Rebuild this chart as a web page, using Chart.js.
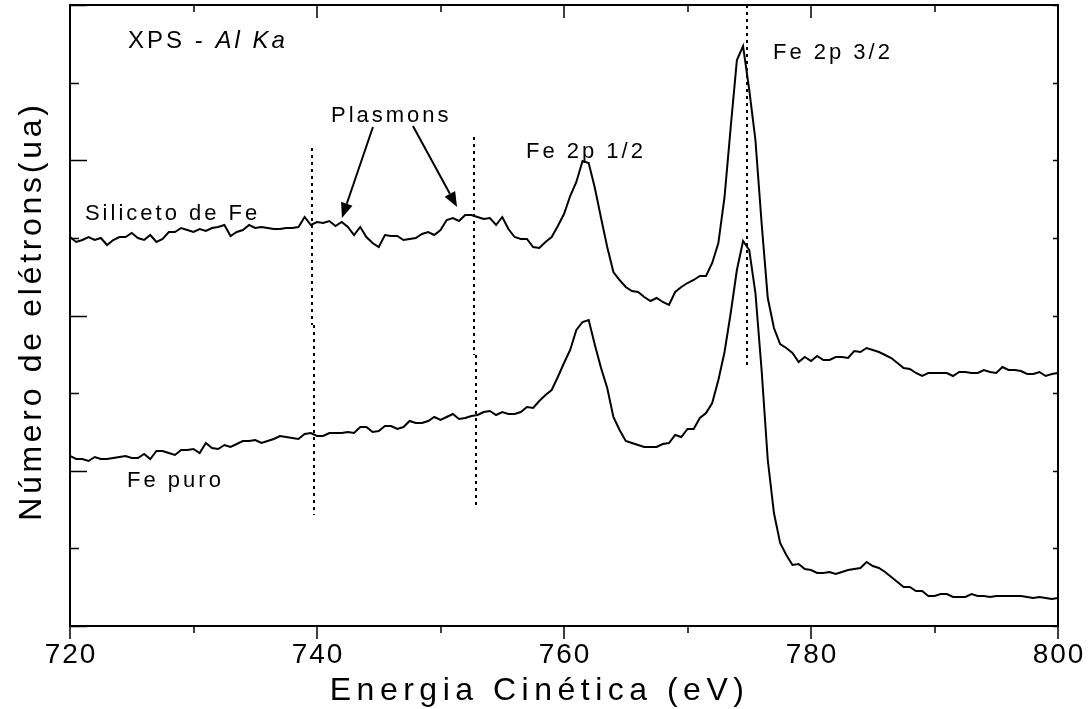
<!DOCTYPE html>
<html>
<head>
<meta charset="utf-8">
<title>XPS - Al Ka</title>
<script src="https://cdn.jsdelivr.net/npm/chart.js@4.4.1/dist/chart.umd.min.js"></script>
<style>
  html, body { margin: 0; padding: 0; background: #fff; }
  #wrap { width: 1091px; height: 709px; }
</style>
</head>
<body>
<div id="wrap"><canvas id="xpsChart"></canvas></div>
<script>
// Kinetic energy grid (eV)
const energies = [
  720, 720.5, 721, 721.5, 722, 722.5, 723, 723.5, 724, 724.5,
  725, 725.5, 726, 726.5, 727, 727.5, 728, 728.5, 729, 729.5,
  730, 730.5, 731, 731.5, 732, 732.5, 733, 733.5, 734, 734.5,
  735, 735.5, 736, 736.5, 737, 737.5, 738, 738.5, 739, 739.5,
  740, 740.5, 741, 741.5, 742, 742.5, 743, 743.5, 744, 744.5,
  745, 745.5, 746, 746.5, 747, 747.5, 748, 748.5, 749, 749.5,
  750, 750.5, 751, 751.5, 752, 752.5, 753, 753.5, 754, 754.5,
  755, 755.5, 756, 756.5, 757, 757.5, 758, 758.5, 759, 759.5,
  760, 760.5, 761, 761.5, 762, 762.5, 763, 763.5, 764, 764.5,
  765, 765.5, 766, 766.5, 767, 767.5, 768, 768.5, 769, 769.5,
  770, 770.5, 771, 771.5, 772, 772.5, 773, 773.5, 774, 774.5,
  775, 775.5, 776, 776.5, 777, 777.5, 778, 778.5, 779, 779.5,
  780, 780.5, 781, 781.5, 782, 782.5, 783, 783.5, 784, 784.5,
  785, 785.5, 786, 786.5, 787, 787.5, 788, 788.5, 789, 789.5,
  790, 790.5, 791, 791.5, 792, 792.5, 793, 793.5, 794, 794.5,
  795, 795.5, 796, 796.5, 797, 797.5, 798, 798.5, 799, 799.5,
  800
];

// Electron counts (arbitrary units), iron silicide
const siliceto = [
  389, 384, 386, 389, 386, 388, 381, 386, 389, 389,
  393, 388, 386, 391, 384, 387, 394, 394, 398, 396,
  394, 397, 395, 398, 399, 401, 390, 394, 396, 401,
  398, 399, 398, 397, 397, 398, 398, 399, 409, 401,
  404, 403, 405, 400, 404, 399, 391, 399, 389, 383,
  379, 391, 390, 390, 386, 387, 388, 392, 394, 391,
  396, 406, 408, 405, 411, 411, 409, 407, 408, 401,
  409, 397, 389, 387, 387, 379, 378, 384, 389, 400,
  412, 430, 444, 465, 463, 438, 408, 379, 354, 346,
  339, 335, 334, 329, 325, 328, 324, 321, 334, 339,
  343, 346, 350, 350, 363, 383, 429, 499, 566, 580,
  536, 486, 403, 328, 298, 282, 278, 273, 264, 269,
  265, 270, 266, 266, 269, 269, 268, 275, 274, 278,
  276, 274, 271, 268, 263, 258, 257, 253, 250, 253,
  253, 253, 253, 250, 254, 254, 253, 253, 256, 254,
  253, 259, 256, 256, 255, 252, 252, 254, 250, 252,
  253
];

// Electron counts (arbitrary units), pure iron
const fePuro = [
  170, 167, 167, 165, 169, 167, 167, 168, 169, 170,
  168, 168, 172, 167, 175, 175, 173, 171, 176, 176,
  177, 173, 183, 178, 177, 181, 179, 182, 185, 185,
  186, 183, 185, 187, 190, 189, 188, 187, 192, 193,
  190, 190, 193, 193, 193, 194, 193, 199, 199, 194,
  195, 200, 200, 197, 199, 205, 203, 203, 205, 209,
  206, 209, 212, 207, 208, 210, 211, 214, 215, 211,
  214, 212, 212, 214, 219, 218, 225, 231, 236, 249,
  263, 276, 296, 304, 306, 281, 258, 238, 209, 196,
  185, 183, 181, 179, 179, 179, 182, 183, 191, 189,
  197, 197, 208, 213, 223, 246, 274, 313, 356, 385,
  376, 333, 256, 166, 113, 83, 71, 61, 62, 57,
  56, 53, 53, 54, 52, 54, 56, 57, 58, 64,
  60, 58, 54, 49, 44, 39, 39, 35, 35, 30,
  30, 32, 32, 29, 29, 29, 32, 30, 30, 29,
  30, 30, 30, 30, 30, 29, 28, 29, 28, 27,
  28
];

// Axis ranges and ticks
const xMin = 720, xMax = 800, xStep = 10, xLabelStep = 20;
const yMin = 0, yMax = 621, yDivisions = 8;

// Dotted guide segments: [energy, top count, bottom count]
const guides = [
  [739.595, 478, 301], [739.757, 301, 111],
  [752.713, 489, 271], [752.874, 271, 119],
  [774.818, 621, 258]
];

// Plasmon arrows: [from energy, from count, to energy, to count]
const arrows = [
  [744.53, 499, 742.02, 408],
  [747.77, 500, 751.34, 419]
];

// Text labels: [text, energy, count (baseline)]
const labels = [
  ['Plasmons', 741.13, 504],
  ['Siliceto de Fe', 721.21, 406],
  ['Fe 2p 1/2', 756.92, 468],
  ['Fe 2p 3/2', 776.92, 567],
  ['Fe puro', 724.62, 139]
];

const FONT = "'Liberation Sans', Arial, sans-serif";

function spacedText(ctx, text, x, y, spacing, align) {
  ctx.letterSpacing = spacing + 'px';
  const w = ctx.measureText(text).width - spacing;
  ctx.textAlign = 'left';
  ctx.fillText(text, align === 'center' ? x - w / 2 : x, y);
  return w + spacing;
}

const guideSets = guides.map(g => ({
  data: [{ x: g[0], y: g[1] }, { x: g[0], y: g[2] }],
  borderColor: '#000',
  borderWidth: 2,
  borderDash: [3, 4],
  pointRadius: 0
}));

const decorations = {
  id: 'decorations',
  afterDraw(chart) {
    const { ctx, chartArea: a, scales: { x, y } } = chart;
    ctx.save();
    ctx.strokeStyle = '#000';
    ctx.fillStyle = '#000';

    // frame
    ctx.lineWidth = 2;
    ctx.strokeRect(a.left, a.top, a.right - a.left, a.bottom - a.top);

    // x ticks: outward at bottom, inward at top
    ctx.lineWidth = 1.5;
    x.ticks.forEach(t => {
      const px = Math.round(x.getPixelForValue(t.value));
      const major = t.value % xLabelStep === 0;
      const len = major ? 13 : 7;
      ctx.beginPath();
      ctx.moveTo(px, a.bottom); ctx.lineTo(px, a.bottom + len);
      ctx.moveTo(px, a.top); ctx.lineTo(px, a.top + len);
      ctx.stroke();
    });

    // y ticks: inward on both sides
    y.ticks.forEach((t, i) => {
      const py = Math.round(y.getPixelForValue(t.value)) + 0.5;
      const len = i % 2 === 0 ? 17 : 9;
      ctx.beginPath();
      ctx.moveTo(a.left, py); ctx.lineTo(a.left + len, py);
      ctx.moveTo(a.right, py); ctx.lineTo(a.right - 5, py);
      ctx.stroke();
    });

    // x tick labels
    ctx.font = '28px ' + FONT;
    ctx.textBaseline = 'alphabetic';
    x.ticks.forEach(t => {
      if (t.value % xLabelStep !== 0) return;
      spacedText(ctx, String(t.value), x.getPixelForValue(t.value), 663, 2, 'center');
    });

    // axis titles
    ctx.font = '32px ' + FONT;
    spacedText(ctx, 'Energia Cinética (eV)', x.getPixelForValue(757.8), 700, 5.5, 'center');
    ctx.save();
    ctx.translate(41, 313);
    ctx.rotate(-Math.PI / 2);
    spacedText(ctx, 'Número de elétrons(ua)', 0, 0, 3.7, 'center');
    ctx.restore();

    // annotation text
    ctx.font = '22px ' + FONT;
    labels.forEach(l => {
      spacedText(ctx, l[0], x.getPixelForValue(l[1]), y.getPixelForValue(l[2]), 3, 'left');
    });
    ctx.font = '24px ' + FONT;
    let tx = x.getPixelForValue(724.7);
    const ty = y.getPixelForValue(578);
    tx += spacedText(ctx, 'XPS - ', tx, ty, 3, 'left');
    ctx.font = 'italic 24px ' + FONT;
    spacedText(ctx, 'Al Ka', tx, ty, 3, 'left');

    // arrows
    ctx.lineWidth = 2;
    arrows.forEach(r => {
      const x0 = x.getPixelForValue(r[0]), y0 = y.getPixelForValue(r[1]);
      const x1 = x.getPixelForValue(r[2]), y1 = y.getPixelForValue(r[3]);
      const ang = Math.atan2(y1 - y0, x1 - x0);
      const hl = 15, hw = 6;
      const bx = x1 - hl * Math.cos(ang), by = y1 - hl * Math.sin(ang);
      ctx.beginPath();
      ctx.moveTo(x0, y0); ctx.lineTo(bx, by);
      ctx.stroke();
      ctx.beginPath();
      ctx.moveTo(x1, y1);
      ctx.lineTo(bx + hw * Math.sin(ang), by - hw * Math.cos(ang));
      ctx.lineTo(bx - hw * Math.sin(ang), by + hw * Math.cos(ang));
      ctx.closePath();
      ctx.fill();
    });

    ctx.restore();
  }
};

const ctx = document.getElementById('xpsChart').getContext('2d');
new Chart(ctx, {
  type: 'line',
  data: {
    datasets: [
      {
        label: 'Siliceto de Fe',
        data: energies.map((e, i) => ({ x: e, y: siliceto[i] })),
        borderColor: '#000',
        borderWidth: 2,
        pointRadius: 0,
        tension: 0
      },
      {
        label: 'Fe puro',
        data: energies.map((e, i) => ({ x: e, y: fePuro[i] })),
        borderColor: '#000',
        borderWidth: 2,
        pointRadius: 0,
        tension: 0
      },
      ...guideSets
    ]
  },
  options: {
    responsive: true,
    maintainAspectRatio: false,
    animation: false,
    events: [],
    layout: { padding: { top: 5, right: 33, left: 0, bottom: 0 } },
    plugins: { legend: { display: false }, tooltip: { enabled: false } },
    scales: {
      x: {
        type: 'linear',
        min: xMin,
        max: xMax,
        ticks: { display: false, stepSize: xStep },
        grid: { display: false, drawTicks: false },
        border: { display: false },
        afterFit: s => { s.height = 83; }
      },
      y: {
        min: yMin,
        max: yMax,
        ticks: { display: false },
        grid: { display: false, drawTicks: false },
        border: { display: false },
        afterBuildTicks: s => {
          s.ticks = [];
          for (let i = 0; i <= yDivisions; i++) s.ticks.push({ value: yMin + (yMax - yMin) * i / yDivisions });
        },
        afterFit: s => { s.width = 70; }
      }
    }
  },
  plugins: [decorations]
});
</script>
</body>
</html>
